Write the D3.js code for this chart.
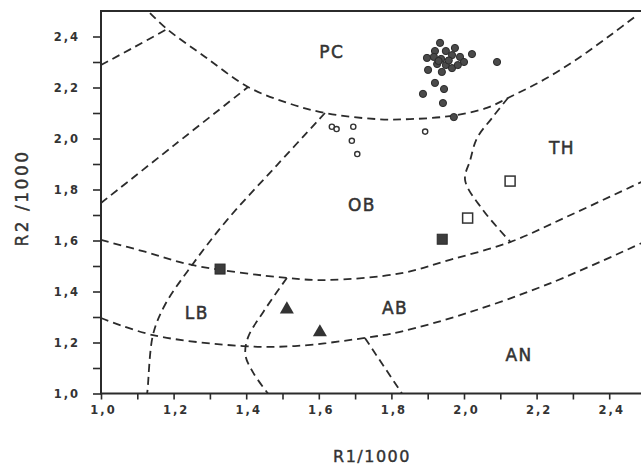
<!DOCTYPE html>
<html>
<head>
<meta charset="utf-8">
<script src="https://cdn.jsdelivr.net/npm/d3@7"></script>
<style>
  html, body { margin: 0; padding: 0; background: #fff; }
  svg { display: block; }
</style>
</head>
<body>
<svg id="chart" width="641" height="471"></svg>
<script>
// ---- Data (R1/1000, R2/1000) ----
const xTicks = [1.0, 1.1, 1.2, 1.3, 1.4, 1.5, 1.6, 1.7, 1.8, 1.9, 2.0, 2.1, 2.2, 2.3, 2.4];
const yTicks = [1.0, 1.1, 1.2, 1.3, 1.4, 1.5, 1.6, 1.7, 1.8, 1.9, 2.0, 2.1, 2.2, 2.3, 2.4];

// Field boundaries (dashed)
const boundaryPC = [[1.135,2.492],[1.182,2.429],[1.287,2.320],[1.405,2.202],[1.515,2.139],[1.617,2.100],[1.760,2.076],[1.851,2.076],[1.961,2.088],[2.063,2.120],[2.121,2.159],[2.223,2.233],[2.320,2.320],[2.408,2.410],[2.477,2.484]];
const boundaryTopLeft = [[1.0,2.288],[1.09,2.357],[1.182,2.429]];
const boundaryUpperLeft = [[1.0,1.747],[1.20,1.972],[1.405,2.202]];
const boundaryLB = [[1.617,2.100],[1.485,1.896],[1.347,1.680],[1.251,1.504],[1.176,1.347],[1.143,1.229],[1.127,1.002],[1.126,1.0]];
const boundaryOB = [[1.0,1.602],[1.121,1.556],[1.251,1.504],[1.512,1.453],[1.625,1.445],[1.824,1.471],[1.961,1.524],[2.127,1.594],[2.283,1.693],[2.488,1.829]];
const boundaryAN = [[1.0,1.296],[1.143,1.229],[1.391,1.186],[1.534,1.186],[1.727,1.218],[1.824,1.242],[2.007,1.315],[2.237,1.432],[2.488,1.589]];
const boundaryAB = [[1.512,1.453],[1.448,1.322],[1.405,1.220],[1.398,1.150],[1.420,1.080],[1.460,1.0]];
const boundaryANleft = [[1.727,1.218],[1.829,1.0]];
const boundaryTH = [[2.121,2.159],[2.077,2.080],[2.036,2.002],[2.017,1.915],[2.003,1.837],[2.052,1.720],[2.127,1.596]];

const boundaries = [boundaryPC, boundaryTopLeft, boundaryUpperLeft, boundaryLB, boundaryOB, boundaryAN, boundaryAB, boundaryANleft, boundaryTH];

// Field names
const fieldNames = ["PC", "OB", "TH", "LB", "AB", "AN"];
const fieldR1 = [1.636, 1.719, 2.270, 1.264, 1.810, 2.152];
const fieldR2 = [2.340, 1.739, 1.963, 1.314, 1.334, 1.151];

// Filled circles
const dotsR1 = [1.934,1.975,1.920,1.950,1.898,1.917,1.937,1.967,1.989,2.022,2.000,1.926,1.950,1.967,1.901,1.939,1.983,2.091,1.920,1.945,1.887,1.942,1.972,1.930,1.958];
const dotsR2 = [2.375,2.355,2.343,2.343,2.316,2.320,2.312,2.327,2.320,2.331,2.300,2.292,2.288,2.276,2.269,2.261,2.288,2.300,2.218,2.194,2.175,2.139,2.084,2.304,2.306];

// Open circles
const ringsR1 = [1.636, 1.649, 1.695, 1.691, 1.706, 1.893];
const ringsR2 = [2.046, 2.037, 2.046, 1.991, 1.939, 2.027];

// Open squares
const openSqR1 = [2.127, 2.010];
const openSqR2 = [1.833, 1.688];

// Filled squares
const fillSqR1 = [1.940, 1.328];
const fillSqR2 = [1.605, 1.488];

// Filled triangles
const triR1 = [1.512, 1.603];
const triR2 = [1.330, 1.240];

// ---- Drawing ----
const svg = d3.select("#chart");
const ink = "#2b2b2b";

const x = d3.scaleLinear().domain([1.0, 2.5]).range([101, 645.5]);
const y = d3.scaleLinear().domain([1.0, 2.5]).range([393.5, 11]);

const fmt = d => (Math.round(d * 10) % 2 === 0) ? d.toFixed(1).replace(".", ",") : "";

// frame
svg.append("path")
  .attr("d", `M${x(2.5)},${y(2.5)} H${x(1.0)} V${y(1.0)} H${x(2.5)}`)
  .attr("fill", "none").attr("stroke", ink).attr("stroke-width", 2);

// axes
const xAxis = svg.append("g")
  .attr("transform", `translate(0,${y(1.0)})`)
  .call(d3.axisBottom(x).tickValues(xTicks).tickSize(6).tickPadding(6).tickFormat(fmt));
const yAxis = svg.append("g")
  .attr("transform", `translate(${x(1.0)},0)`)
  .call(d3.axisLeft(y).tickValues(yTicks).tickSize(8).tickPadding(13).tickFormat(fmt));

[xAxis, yAxis].forEach(g => {
  g.select(".domain").remove();
  g.selectAll(".tick line").attr("stroke", ink).attr("stroke-width", 1.6);
  g.selectAll(".tick text")
    .attr("fill", "#333")
    .style("font-family", "'DejaVu Sans', sans-serif")
    .style("font-size", "11.5px")
    .style("font-weight", "bold")
    .style("letter-spacing", "2px");
});
xAxis.selectAll(".tick text").attr("dx", "2");

// dashed boundaries
const line = d3.line().x(d => x(d[0])).y(d => y(d[1])).curve(d3.curveCatmullRom.alpha(0.5));
svg.append("g").selectAll("path").data(boundaries).join("path")
  .attr("d", line)
  .attr("fill", "none")
  .attr("stroke", ink)
  .attr("stroke-width", 1.8)
  .attr("stroke-dasharray", "8,5");

// field names
svg.append("g").selectAll("text").data(fieldNames).join("text")
  .attr("x", (d, i) => x(fieldR1[i]))
  .attr("y", (d, i) => y(fieldR2[i]))
  .attr("text-anchor", "middle")
  .attr("dominant-baseline", "central")
  .attr("fill", "#333")
  .attr("stroke", "#333")
  .attr("stroke-width", 0.5)
  .style("font-family", "'DejaVu Sans', sans-serif")
  .style("font-size", "17px")
  .style("letter-spacing", "1.5px")
  .text(d => d);

// filled circles
svg.append("g").selectAll("circle").data(dotsR1).join("circle")
  .attr("cx", d => x(d))
  .attr("cy", (d, i) => y(dotsR2[i]))
  .attr("r", 3.6)
  .attr("fill", "#4a4a4a")
  .attr("stroke", "#2a2a2a")
  .attr("stroke-width", 1);

// open circles
svg.append("g").selectAll("circle").data(ringsR1).join("circle")
  .attr("cx", d => x(d))
  .attr("cy", (d, i) => y(ringsR2[i]))
  .attr("r", 2.6)
  .attr("fill", "#fff")
  .attr("stroke", "#333")
  .attr("stroke-width", 1.4);

// open squares
const sq = 10;
svg.append("g").selectAll("rect").data(openSqR1).join("rect")
  .attr("x", d => x(d) - sq / 2)
  .attr("y", (d, i) => y(openSqR2[i]) - sq / 2)
  .attr("width", sq).attr("height", sq)
  .attr("fill", "#fff")
  .attr("stroke", "#333")
  .attr("stroke-width", 1.5);

// filled squares
svg.append("g").selectAll("rect").data(fillSqR1).join("rect")
  .attr("x", d => x(d) - sq / 2)
  .attr("y", (d, i) => y(fillSqR2[i]) - sq / 2)
  .attr("width", sq).attr("height", sq)
  .attr("fill", "#3c3c3c")
  .attr("stroke", "#2a2a2a")
  .attr("stroke-width", 1);

// filled triangles
const tri = d3.symbol().type(d3.symbolTriangle).size(85);
svg.append("g").selectAll("path").data(triR1).join("path")
  .attr("transform", (d, i) => `translate(${x(d)},${y(triR2[i])})`)
  .attr("d", tri)
  .attr("fill", "#333");

// axis titles
svg.append("text")
  .attr("x", 372).attr("y", 456)
  .attr("text-anchor", "middle")
  .attr("dominant-baseline", "central")
  .attr("fill", "#333")
  .attr("stroke", "#333")
  .attr("stroke-width", 0.4)
  .style("font-family", "'DejaVu Sans', sans-serif")
  .style("font-size", "16px")
  .style("letter-spacing", "1.5px")
  .text("R1/1000");

svg.append("text")
  .attr("transform", "translate(22,198) rotate(-90)")
  .attr("text-anchor", "middle")
  .attr("dominant-baseline", "central")
  .attr("fill", "#333")
  .attr("stroke", "#333")
  .attr("stroke-width", 0.4)
  .style("font-family", "'DejaVu Sans', sans-serif")
  .style("font-size", "17px")
  .style("letter-spacing", "2.5px")
  .text("R2 /1000");
</script>
</body>
</html>
